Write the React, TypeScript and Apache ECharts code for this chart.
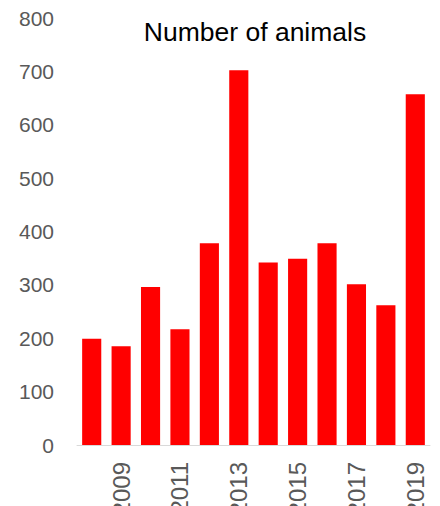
import React, { useEffect, useRef } from "react";
import * as echarts from "echarts";

const years = ["2008", "2009", "2010", "2011", "2012", "2013", "2014", "2015", "2016", "2017", "2018", "2019"];
const animals = [199, 185, 296, 217, 378, 702, 342, 349, 378, 301, 262, 657];
const titleText = "Number of animals";

export default function App() {
  const ref = useRef<HTMLDivElement>(null);
  useEffect(() => {
    document.body.style.margin = "0";
    const chart = echarts.init(ref.current!, null, { renderer: "svg" });
    const font = "'Liberation Sans', Arial, sans-serif";
    chart.setOption({
      animation: false,
      backgroundColor: "#ffffff",
      title: {
        text: titleText,
        left: 250,
        textAlign: "center",
        top: 13,
        textStyle: { fontFamily: font, fontSize: 26.5, fontWeight: "normal", color: "#000000" },
      },
      grid: { left: 77, right: 10, top: 18, bottom: 61, containLabel: false, outerBoundsMode: "none" },
      xAxis: {
        type: "category",
        data: years,
        axisLine: { show: true, lineStyle: { color: "#d9d9d9", width: 1 } },
        axisTick: { show: false },
        axisLabel: {
          rotate: 90,
          margin: 17,
          interval: (i: number) => i % 2 === 1,
          color: "#595959",
          fontFamily: font,
          fontSize: 24,
        },
      },
      yAxis: {
        type: "value",
        min: 0,
        max: 800,
        interval: 100,
        axisLine: { show: false },
        axisTick: { show: false },
        splitLine: { show: false },
        axisLabel: { margin: 23, color: "#595959", fontFamily: font, fontSize: 21 },
      },
      series: [
        {
          type: "bar",
          data: animals,
          barWidth: "65%",
          itemStyle: { color: "#ff0000" },
        },
      ],
    });
    return () => chart.dispose();
  }, []);
  return <div ref={ref} style={{ position: "absolute", left: 0, top: 0, width: 440, height: 506 }} />;
}
